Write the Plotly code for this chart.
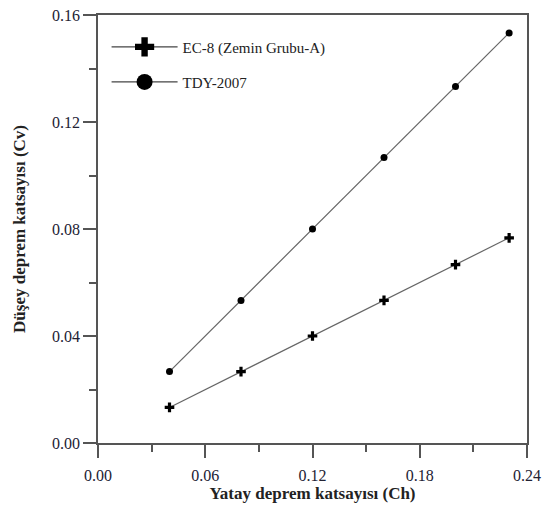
import plotly.graph_objects as go

ch = [0.04, 0.08, 0.12, 0.16, 0.20, 0.23]
cv_ec8 = [0.0133, 0.0267, 0.040, 0.0533, 0.0667, 0.0767]
cv_tdy = [0.0267, 0.0533, 0.080, 0.1067, 0.1333, 0.1533]
names = ["EC-8 (Zemin Grubu-A)", "TDY-2007"]

x_ticks = [0.00, 0.06, 0.12, 0.18, 0.24]
y_ticks = [0.00, 0.04, 0.08, 0.12, 0.16]

FONT = "Liberation Serif, Times New Roman, serif"
LINE = "#555555"

fig = go.Figure()
fig.add_trace(go.Scatter(x=ch, y=cv_ec8, mode="lines+markers", showlegend=False,
                         line=dict(color="#666666", width=1.2),
                         marker=dict(symbol="cross", size=8, color="black")))
fig.add_trace(go.Scatter(x=ch, y=cv_tdy, mode="lines+markers", showlegend=False,
                         line=dict(color="#666666", width=1.2),
                         marker=dict(symbol="circle", size=7, color="black")))
# legend entries
fig.add_trace(go.Scatter(x=[None], y=[None], mode="lines+markers", name=names[0],
                         line=dict(color="#444444", width=1.2), legend="legend",
                         marker=dict(symbol="cross", size=16, color="black")))
fig.add_trace(go.Scatter(x=[None], y=[None], mode="lines+markers", name=names[1],
                         line=dict(color="#444444", width=1.2), legend="legend2",
                         marker=dict(symbol="circle", size=16, color="black")))

axis_common = dict(showline=True, linecolor=LINE, linewidth=1.5, mirror=True,
                   ticks="outside", ticklen=13, tickwidth=1.5, tickcolor=LINE,
                   showgrid=False, zeroline=False, automargin=False,
                   ticklabeloverflow="allow",
                   tickfont=dict(family=FONT, size=16, color="#222233"))

fig.update_xaxes(range=[0, 0.24], tickvals=x_ticks,
                 ticktext=[f"{v:.2f}" for v in x_ticks],
                 ticklabelstandoff=4,
                 minor=dict(ticks="outside", ticklen=7, tickwidth=1.5, tickcolor=LINE, dtick=0.03, tick0=0),
                 title=dict(text="<b>Yatay deprem katsayısı (Ch)</b>", standoff=2,
                            font=dict(family=FONT, size=17, color="#222222")),
                 **axis_common)
fig.update_yaxes(range=[0, 0.16], tickvals=y_ticks,
                 ticktext=[f"{v:.2f}" for v in y_ticks],
                 minor=dict(ticks="outside", ticklen=7, tickwidth=1.5, tickcolor=LINE, dtick=0.02, tick0=0),
                 title=dict(text="<b>Düşey deprem katsayısı (Cv)</b>", standoff=22,
                            font=dict(family=FONT, size=17, color="#222222")),
                 **axis_common)

leg = dict(font=dict(family=FONT, size=15, color="#222222"), bgcolor="rgba(0,0,0,0)",
           xanchor="left", yanchor="middle", itemwidth=66)
fig.update_layout(
    width=544, height=506,
    margin=dict(l=98, r=17, t=15, b=63),
    plot_bgcolor="white", paper_bgcolor="white",
    legend=dict(x=0.02, y=0.925, **leg),
    legend2=dict(x=0.02, y=0.843, **leg),
)

fig.write_html("out.html", config={"displayModeBar": False},
               post_script="document.body.style.margin='0px';document.body.style.overflow='hidden';")
